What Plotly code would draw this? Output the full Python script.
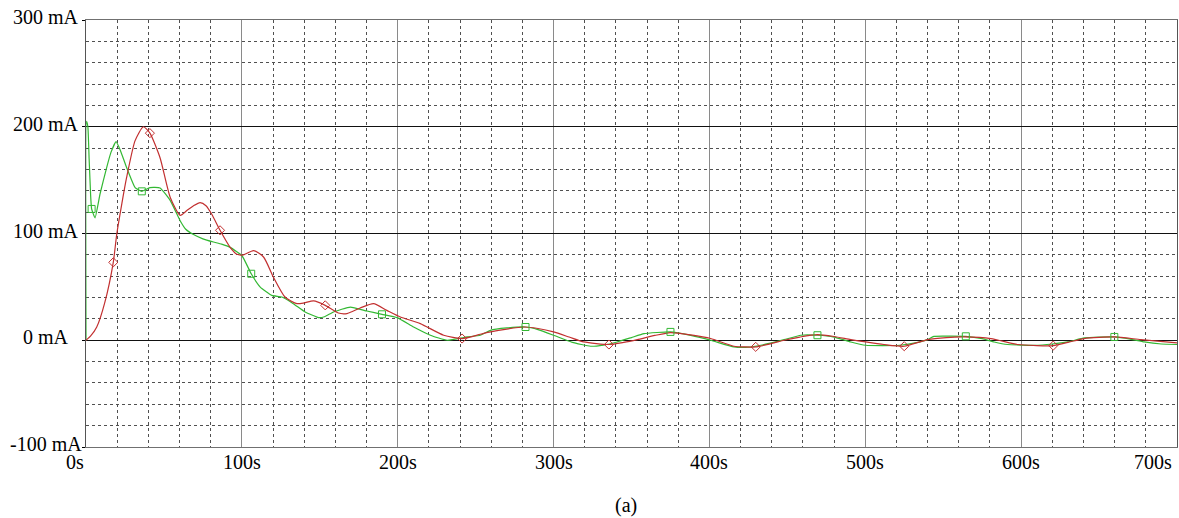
import plotly.graph_objects as go

# ---- data (time in s, current in mA) ----
red_t = [0, 3, 6.9, 12, 17.5, 19.7, 23, 26, 31.5, 36.8, 41, 47.5, 54, 60.4, 64.7, 69, 73.2, 77, 80.7,
         86, 92.5, 96.8, 101, 107.5, 113.9, 120.3, 127.7, 135.3, 140, 146, 153.5, 161.9, 167.4, 175.9,
         184.5, 193, 201.7, 214.5, 229.5, 241.3, 253, 259.5, 270, 280.9, 290, 300, 310, 319.4, 335.5,
         345, 353.7, 365, 375, 388, 400.8, 415.7, 429.7, 440, 447.9, 458, 469.3, 480, 490.7, 500.3,
         512, 525, 540, 552, 563.5, 580.6, 597.7, 610, 620.6, 630, 640.5, 659.8, 676.8, 700]
red_i = [0, 4, 12.4, 35, 73, 99, 128, 152, 187, 200, 194, 171, 134, 117, 121.5, 126, 129, 126, 118,
         103, 87, 80.5, 80, 84, 78, 59, 40.5, 34.3, 35, 36.8, 32.7, 25.5, 25, 30.2,
         34.3, 28, 21.8, 15.6, 4.7, 1.6, 5.6, 7.8, 10.5, 12.4, 11, 7.8, 3, -1.6, -4,
         -2, 0.6, 4.5, 7.2, 5, 1.6, -5.6, -6.2, -3, 0, 3, 5.3, 3.5, 0.6, -1.6,
         -4, -5.6, 0.6, 2.5, 3.1, 1.6, -4, -5, -5, -2, 1.6, 3.1, 0.6, -2.5]

green_t = [0, 0.3, 1.2, 2, 3, 3.6, 5.8, 9, 13.3, 16, 19.3, 22, 26, 31.5, 35.8, 41, 47.5, 54, 60.4,
           64, 69, 75, 81.8, 87, 92.5, 100, 106, 111.8, 119.2, 125.7, 133, 140.6, 149.2, 153, 158.8,
           169.6, 180.2, 189.9, 199.6, 210.2, 221, 231.7, 244.5, 253, 259.5, 270, 282, 290, 300, 312,
           323.7, 332, 340.8, 350, 358, 375, 388, 400.8, 415.7, 425, 432.9, 447.9, 458.6, 469.3, 480,
           490.7, 500.3, 511, 522, 532, 540, 544, 555, 564.5, 575, 582.7, 591.3, 608.4, 620, 629.8,
           640.5, 650, 659.8, 670, 679, 690, 700]
green_i = [0, 205, 200, 170, 135, 123, 114.7, 137, 162, 176, 186, 178, 162, 143, 139.5, 143, 142.7, 131, 112,
           104, 99, 95, 92, 90, 87, 79.4, 62.3, 49.8, 42, 40.5, 34.3, 26.5, 21.2, 22, 26.5,
           31.1, 27.4, 24.3, 21.2, 12.4, 4.7, 0, 3.1, 4.7, 9.3, 11.5, 12.4, 10, 4.7, -2,
           -5.6, -4.5, -1.6, 2.5, 6.2, 7.8, 4.5, 0, -6.2, -6.5, -4.7, 0.6, 4.7, 4.7, 3,
           -1.6, -4.7, -5, -4.7, -2.5, 0.6, 3.7, 3.9, 3.7, 1.5, -1.6, -4, -4.7, -3.5, -1.6,
           2.2, 3, 3.1, 1, -1.6, -3.5, -4]

red_mark_t = [17.5, 41, 86, 153.5, 241.3, 335.5, 429.7, 525, 620.6]
red_mark_i = [73, 194, 103, 32.7, 1.6, -4, -6.2, -5.6, -5]
green_mark_t = [3.6, 35.8, 106, 189.9, 282, 375, 469.3, 564.5, 659.8]
green_mark_i = [123, 139.5, 62.3, 24.3, 12.4, 7.8, 4.7, 3.7, 3.1]

x_tick_vals = [0, 100, 200, 300, 400, 500, 600, 700]
x_tick_text = ["0s", "100s", "200s", "300s", "400s", "500s", "600s", "700s"]
y_tick_vals = [300, 200, 100, 0, -100]
y_tick_text = ["300 mA", "200 mA", "100 mA", "0 mA", "-100 mA"]
caption = "(a)"

RED = "#c23030"
GREEN = "#33b833"
FONT = "'Liberation Serif', 'Times New Roman', Times, serif"

fig = go.Figure()
fig.add_trace(go.Scatter(x=green_t, y=green_i, mode="lines", line_shape="spline",
                         line=dict(color=GREEN, width=1.2, smoothing=0.4), showlegend=False))
fig.add_trace(go.Scatter(x=red_t, y=red_i, mode="lines", line_shape="spline",
                         line=dict(color=RED, width=1.2, smoothing=0.6), showlegend=False))
fig.add_trace(go.Scatter(x=green_mark_t, y=green_mark_i, mode="markers",
                         marker=dict(symbol="square-open", size=7, color=GREEN, line=dict(width=1)),
                         showlegend=False))
fig.add_trace(go.Scatter(x=red_mark_t, y=red_mark_i, mode="markers",
                         marker=dict(symbol="diamond-open", size=7, color=RED, line=dict(width=1)),
                         showlegend=False))

annotations = []
for v, t in zip(x_tick_vals, x_tick_text):
    if v == x_tick_vals[0]:
        xa, xs = "right", 0
    elif v == x_tick_vals[-1]:
        xa, xs = "right", -3
    else:
        xa, xs = "center", 0
    annotations.append(dict(x=v, xref="x", y=0, yref="paper", text=t, showarrow=False,
                            xanchor=xa, yanchor="top", xshift=xs, yshift=-2,
                            font=dict(family=FONT, size=20, color="black")))
for v, t in zip(y_tick_vals, y_tick_text):
    annotations.append(dict(x=0, xref="paper", y=v, yref="y", text=t, showarrow=False,
                            xanchor="center", yanchor="middle", xshift=-40, yshift=3,
                            font=dict(family=FONT, size=20, color="black")))
annotations.append(dict(x=0.495, xref="paper", y=-0.137, yref="paper", text=caption, showarrow=False,
                        xanchor="center", yanchor="middle",
                        font=dict(family=FONT, size=20, color="black")))

fig.update_layout(
    width=1179, height=518,
    margin=dict(l=86, r=2, t=20, b=71),
    paper_bgcolor="white", plot_bgcolor="white",
    font=dict(family=FONT, size=20, color="black"),
    annotations=annotations,
    xaxis=dict(range=[0, 700], dtick=100, tick0=0, showgrid=True, gridcolor="#8a8a8a", gridwidth=1,
               minor=dict(dtick=20, tick0=0, showgrid=True, gridcolor="#505050", gridwidth=1,
                          griddash="3px,3px"),
               zeroline=False, showline=True, mirror=True, linecolor="#707070", linewidth=1,
               showticklabels=False, ticks=""),
    yaxis=dict(range=[-100, 300], dtick=100, tick0=0, showgrid=True, gridcolor="#111111", gridwidth=1,
               minor=dict(dtick=20, tick0=0, showgrid=True, gridcolor="#505050", gridwidth=1,
                          griddash="3px,3px"),
               zeroline=False, showline=True, mirror=True, linecolor="#555555", linewidth=1,
               showticklabels=False, ticks="outside", ticklen=3, tickcolor="black", tickwidth=1),
)

fig.write_html("out.html")
